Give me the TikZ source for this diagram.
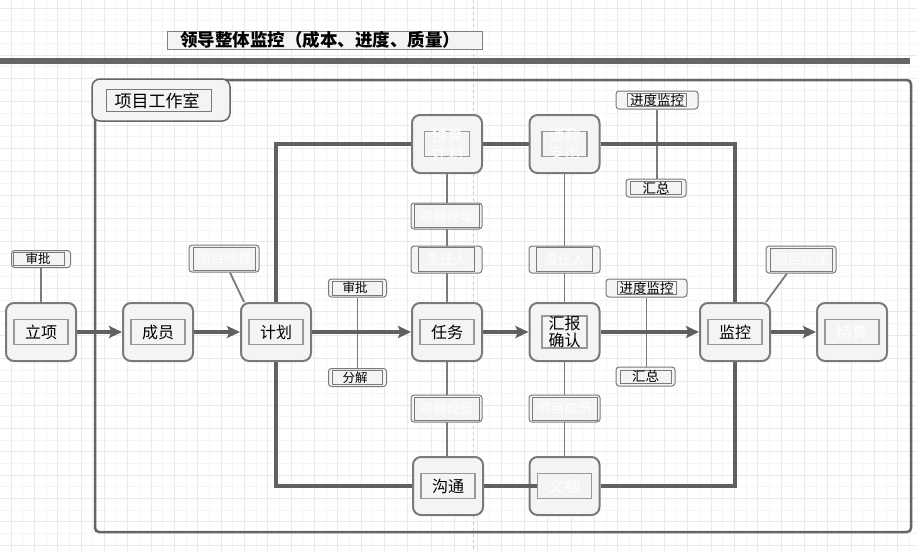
\documentclass[tikz,border=0pt]{standalone}
\usepackage{fontspec}
\newfontfamily\cjk{Noto Sans CJK SC}
\usetikzlibrary{arrows.meta,calc}
\definecolor{nodefill}{HTML}{F4F4F4}
\definecolor{nodeborder}{HTML}{7A7A7A}
\definecolor{innerborder}{HTML}{999999}
\definecolor{thickc}{HTML}{606060}
\definecolor{thinc}{HTML}{7A7A7A}
\definecolor{gridminor}{HTML}{F5F5F5}
\definecolor{gridmajor}{HTML}{EAEAEA}
\definecolor{framec}{HTML}{666666}
\pgfdeclarelayer{back}
\pgfdeclarelayer{mid}
\pgfsetlayers{back,mid,main}
\newcommand\mkbig[6]{%
  \node[bigbox] (#1) at (#2) {};
  \node[innerbox, minimum width=#3pt, minimum height=#4pt] (#1in) at (#2) {};
  \node[bigtext, text=#6] at (#2) {#5};}
\newcommand\mklbl[8]{%
  \node[lblouter, minimum width=#3pt, minimum height=#4pt] (#1) at (#2) {};
  \node[lblinner, minimum width=#5pt, minimum height=#6pt] (#1in) at (#2) {};
  \node[lbltext, text=#8] at (#2) {#7};}
\begin{document}
\begin{tikzpicture}[x=1pt,y=-1pt,
  bigbox/.style={draw=nodeborder, line width=2pt, fill=nodefill, rounded corners=8pt, minimum width=70pt, minimum height=58pt, inner sep=0pt},
  innerbox/.style={draw=innerborder, line width=1.3pt, fill=nodefill, inner sep=0pt},
  bigtext/.style={inner sep=0pt, align=center, font=\cjk\fontsize{16}{17}\selectfont},
  lblouter/.style={draw=nodeborder, line width=1pt, fill=nodefill, rounded corners=3pt, inner sep=0pt},
  lblinner/.style={draw=thinc, line width=1pt, fill=nodefill, inner sep=0pt},
  lbltext/.style={inner sep=0pt, font=\cjk\fontsize{13.5}{15}\selectfont},
  flow/.style={draw=thickc, line width=3.5pt, -{Stealth[length=13pt,width=12pt,inset=2.5pt]}},
  loopline/.style={draw=thickc, line width=3.5pt},
  thin/.style={draw=thinc, line width=1.8pt}
]
\useasboundingbox (0,0) rectangle (917,552);
\begin{pgfonlayer}{back}
  \fill[white] (0,0) rectangle (917,552);
  \foreach \k in {0,...,77} {\draw[gridminor, line width=0.8pt] (11+\k*11.6667,0) -- (11+\k*11.6667,552);}
  \foreach \k in {0,...,46} {\draw[gridminor, line width=0.8pt] (0,8.3+\k*11.6667) -- (917,8.3+\k*11.6667);}
  \foreach \k in {0,...,38} {\draw[gridmajor, line width=0.8pt] (11+\k*23.3333,0) -- (11+\k*23.3333,552);}
  \foreach \k in {0,...,23} {\draw[gridmajor, line width=0.8pt] (0,8.3+\k*23.3333) -- (917,8.3+\k*23.3333);}
  \draw[draw=black!20, line width=1pt, dash pattern=on 3pt off 3pt] (473,0) -- (473,552);
  % title
  \node[draw=black!50, line width=1pt, fill=nodefill, minimum width=315pt, minimum height=18pt, inner sep=0pt] (title) at (324.5,40) {};
  \node[inner sep=0pt, font=\cjk\bfseries\fontsize{17.5}{20}\selectfont] (titletext) at (320,40) {领导整体监控（成本、进度、质量）};
  % bar
  \draw[draw=framec, line width=6pt] (0,61) -- (910,61);
  % container
  \draw[draw=framec, line width=2.5pt, rounded corners=4pt] (95,80) rectangle (911,532);
  \node[draw=framec, line width=1.5pt, fill=nodefill, rounded corners=8pt, minimum width=138pt, minimum height=42pt, inner sep=0pt] (tab) at (161,100) {};
  \node[draw=thinc, line width=1pt, fill=nodefill, minimum width=105pt, minimum height=22pt, inner sep=0pt] (tabin) at (158.5,100.5) {};
  \node[inner sep=0pt, font=\cjk\fontsize{17}{20}\selectfont] (tabtext) at (157,100.5) {项目工作室};
\end{pgfonlayer}

% main nodes
\mkbig{lixiang}{41,332}{54}{25}{立项}{black}
\mkbig{chengyuan}{158,332}{54}{25}{成员}{black}
\mkbig{jihua}{276,332}{54}{25}{计划}{black}
\mkbig{renwu}{447,332}{54}{25}{任务}{black}
\mkbig{huibao}{564.5,332}{45}{32}{汇报\\确认}{black}
\mkbig{jiankong}{735,332}{54}{25}{监控}{black}
\mkbig{jiesuan}{852,332}{54}{25}{结算}{white}
\mkbig{yusuan}{447,144}{45}{25}{预算\\计划}{white}
\mkbig{qingkuan}{564.5,144}{45}{25}{请款\\支出}{white}
\mkbig{goutong}{448,486}{54}{25}{沟通}{black}
\mkbig{wendang}{564.5,486}{54}{25}{文档}{white}

% labels
\node[lblouter, minimum width=59pt, minimum height=17pt] (sp1) at (41,259) {};
\node[lblinner, minimum width=51pt, minimum height=13pt] (sp1in) at (39,259) {};
\node[lbltext, font=\cjk\fontsize{12.5}{14}\selectfont] at (38,259) {审批};
\mklbl{jl1}{224,258.5}{70}{27}{62}{23}{项目经理}{white}
\node[lblouter, minimum width=58pt, minimum height=18pt] (sp2) at (357.5,288) {};
\node[lblinner, minimum width=50pt, minimum height=14pt] (sp2in) at (357.5,288) {};
\node[lbltext, font=\cjk\fontsize{12.5}{14}\selectfont] at (355,288) {审批};
\node[lblouter, minimum width=58pt, minimum height=18pt] (fj) at (357.5,377.5) {};
\node[lblinner, minimum width=50pt, minimum height=14pt] (fjin) at (357.5,377.5) {};
\node[lbltext, font=\cjk\fontsize{12.5}{14}\selectfont] at (355,378) {分解};
\mklbl{jl2}{446.5,216}{71}{26}{65}{23}{项目经理}{white}
\mklbl{zr1}{446.5,259.5}{71}{27}{56}{24}{责任人}{white}
\mklbl{zr2}{564.5,259.5}{71}{27}{56}{24}{责任人}{white}
\mklbl{cy1}{446.5,408.5}{71}{27}{65}{23}{项目成员}{white}
\mklbl{cy2}{564.5,408.5}{71}{27}{65}{23}{项目成员}{white}
\mklbl{jd1}{657,100}{82}{18}{59}{13}{进度监控}{black}
\mklbl{hz1}{656,188}{60}{18}{51}{13}{汇总}{black}
\mklbl{jd2}{646.5,288}{81}{18}{59}{13}{进度监控}{black}
\mklbl{hz2}{645.5,376.5}{59}{19}{51}{13}{汇总}{black}
\mklbl{jl3}{801,259.5}{70}{27}{62}{23}{项目经理}{white}

% connectors
\begin{pgfonlayer}{mid}
  \draw[thin] (sp1.south) -- (lixiang.north);
  \draw[thin] ($(jl1.south)+(6,0)$) -- ($(jihua.north west)+(4,0)$);
  \draw[thin] ($(jl3.south)+(-14,0)$) -- ($(jiankong.north east)+(-5,0)$);
  \draw[thin] (sp2.south) -- (fj.north);
  \draw[thin] (yusuan.south) -- (renwu.north);
  \draw[thin] (qingkuan.south) -- (huibao.north);
  \draw[thin] (renwu.south) -- (goutong.north -| renwu.south);
  \draw[thin] (huibao.south) -- (wendang.north);
  \draw[thin] (jd1.south) -- (hz1.north -| jd1.south);
  \draw[thin] (jd2.south) -- (hz2.north -| jd2.south);
  \draw[flow] (lixiang.east) -- (chengyuan.west);
  \draw[flow] (chengyuan.east) -- (jihua.west);
  \draw[flow] (jihua.east) -- (renwu.west);
  \draw[flow] (renwu.east) -- (huibao.west);
  \draw[flow] (huibao.east) -- (jiankong.west);
  \draw[flow] (jiankong.east) -- (jiesuan.west);
  \draw[loopline] (jihua.north) |- (yusuan.west);
  \draw[loopline] (yusuan.east) -- (qingkuan.west);
  \draw[loopline] (qingkuan.east) -| (jiankong.north);
  \draw[loopline] (jihua.south) |- (goutong.west);
  \draw[loopline] (wendang.east) -| (jiankong.south);
\end{pgfonlayer}
\draw[loopline] (goutong.east) -- (wendangin.west);
\end{tikzpicture}
\end{document}
